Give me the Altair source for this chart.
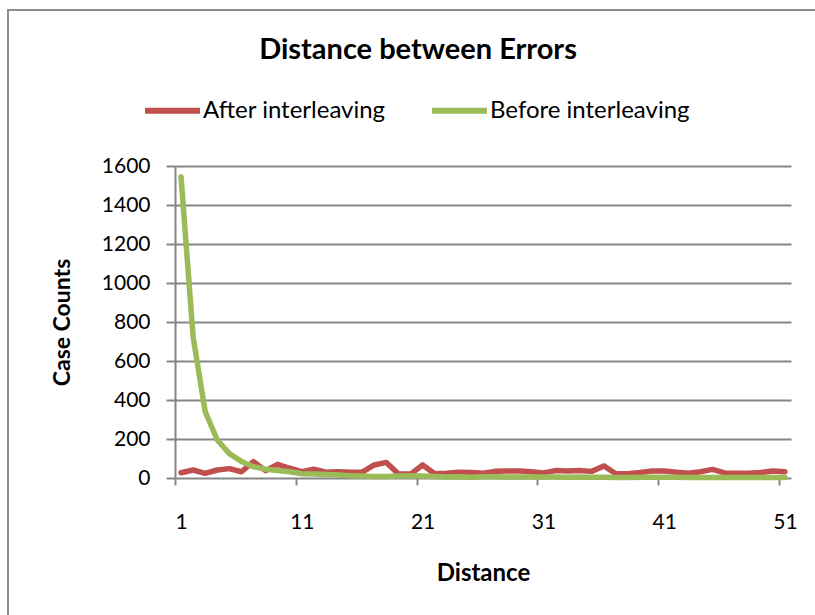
import altair as alt
import pandas as pd

# Error-distance histogram, counts per distance 1..51
distance = list(range(1, 52))
after_interleaving = [
    27, 41, 24, 41, 48, 32, 84, 38, 70, 50,
    32, 45, 30, 32, 30, 30, 67, 80, 20, 20,
    67, 22, 25, 30, 28, 24, 34, 36, 36, 32,
    26, 38, 36, 38, 34, 62, 22, 22, 28, 36,
    36, 30, 24, 32, 44, 26, 24, 24, 28, 36,
    32,
]
before_interleaving = [
    1545, 724, 340, 195, 125, 85, 58, 45, 38, 32,
    22, 20, 18, 15, 12, 10, 8, 8, 10, 12,
    10, 8, 5, 6, 4, 6, 6, 5, 5, 5,
    5, 5, 4, 5, 4, 4, 3, 3, 4, 4,
    4, 4, 3, 3, 3, 3, 3, 3, 3, 3,
    3,
]
series_names = ["After interleaving", "Before interleaving"]
series_colors = ["#C0504D", "#9BBB59"]
y_ticks = [0, 200, 400, 600, 800, 1000, 1200, 1400, 1600]
x_ticks = [1, 11, 21, 31, 41, 51]

df = pd.DataFrame({
    "Distance": distance * 2,
    "Count": after_interleaving + before_interleaving,
    "Series": [series_names[0]] * len(distance) + [series_names[1]] * len(distance),
})

FONT = "Lato"
GRID = "#868686"
HALF_CAT = 616 / 51 / 2  # ticks sit on category boundaries, labels on centres

lines = alt.Chart(df).mark_line(strokeWidth=5.5, strokeCap="round", strokeJoin="round").encode(
    x=alt.X(
        "Distance:Q",
        title="Distance",
        scale=alt.Scale(domain=[0.5, 51.5], nice=False, zero=False),
        axis=alt.Axis(
            values=x_ticks,
            tickOffset=-HALF_CAT,
            labelOffset=HALF_CAT,
            grid=False,
            domain=False,
            tickSize=7,
            tickColor=GRID,
            tickWidth=2,
            labelFont=FONT,
            labelFontSize=21,
            labelColor="black",
            labelBaseline="middle",
            labelPadding=37,
            titleFont=FONT,
            titleFontSize=24,
            titleFontWeight="bold",
            titleColor="black",
            titleX=308,
            titleY=95,
            titleBaseline="middle",
        ),
    ),
    y=alt.Y(
        "Count:Q",
        title="Case Counts",
        scale=alt.Scale(domain=[0, 1600], nice=False),
        axis=alt.Axis(
            values=y_ticks,
            format="d",
            grid=True,
            gridColor=GRID,
            gridWidth=2,
            domainColor=GRID,
            domainWidth=2,
            tickSize=9,
            tickColor=GRID,
            tickWidth=2,
            labelFont=FONT,
            labelFontSize=21,
            labelColor="black",
            labelPadding=16,
            titleFont=FONT,
            titleFontSize=23,
            titleFontWeight="bold",
            titleColor="black",
            titleX=-113,
            titleY=156,
            titleAngle=270,
            titleBaseline="middle",
        ),
    ),
    color=alt.Color(
        "Series:N",
        scale=alt.Scale(domain=series_names, range=series_colors),
        legend=alt.Legend(
            orient="none",
            legendX=-33,
            legendY=-86,
            direction="horizontal",
            title=None,
            symbolType="stroke",
            symbolSize=3025,
            symbolStrokeWidth=6,
            labelFont=FONT,
            labelFontSize=24,
            labelColor="black",
            labelOffset=0,
            columnPadding=34,
            labelLimit=0,
        ),
    ),
)

# outer chart-area frame
frame = alt.Chart(alt.Data(values=[{}])).mark_rect(
    fill=None, stroke="#8C8C8C", strokeWidth=2
).encode(
    x=alt.value(-167), x2=alt.value(680),
    y=alt.value(-156), y2=alt.value(480),
)

chart = alt.layer(frame, lines).properties(
    width=616,
    height=312,
    autosize=alt.AutoSizeParams(type="none"),
    padding={"left": 175, "top": 166, "right": 24, "bottom": 137},
    title=alt.TitleParams(
        "Distance between Errors",
        font=FONT,
        fontSize=29,
        fontWeight="bold",
        color="black",
        anchor="middle",
        frame="group",
        dx=-65,
        offset=-70,
        baseline="middle",
    ),
).configure_view(stroke=None)

chart.save("out.html", embed_options={"renderer": "svg", "actions": False})
